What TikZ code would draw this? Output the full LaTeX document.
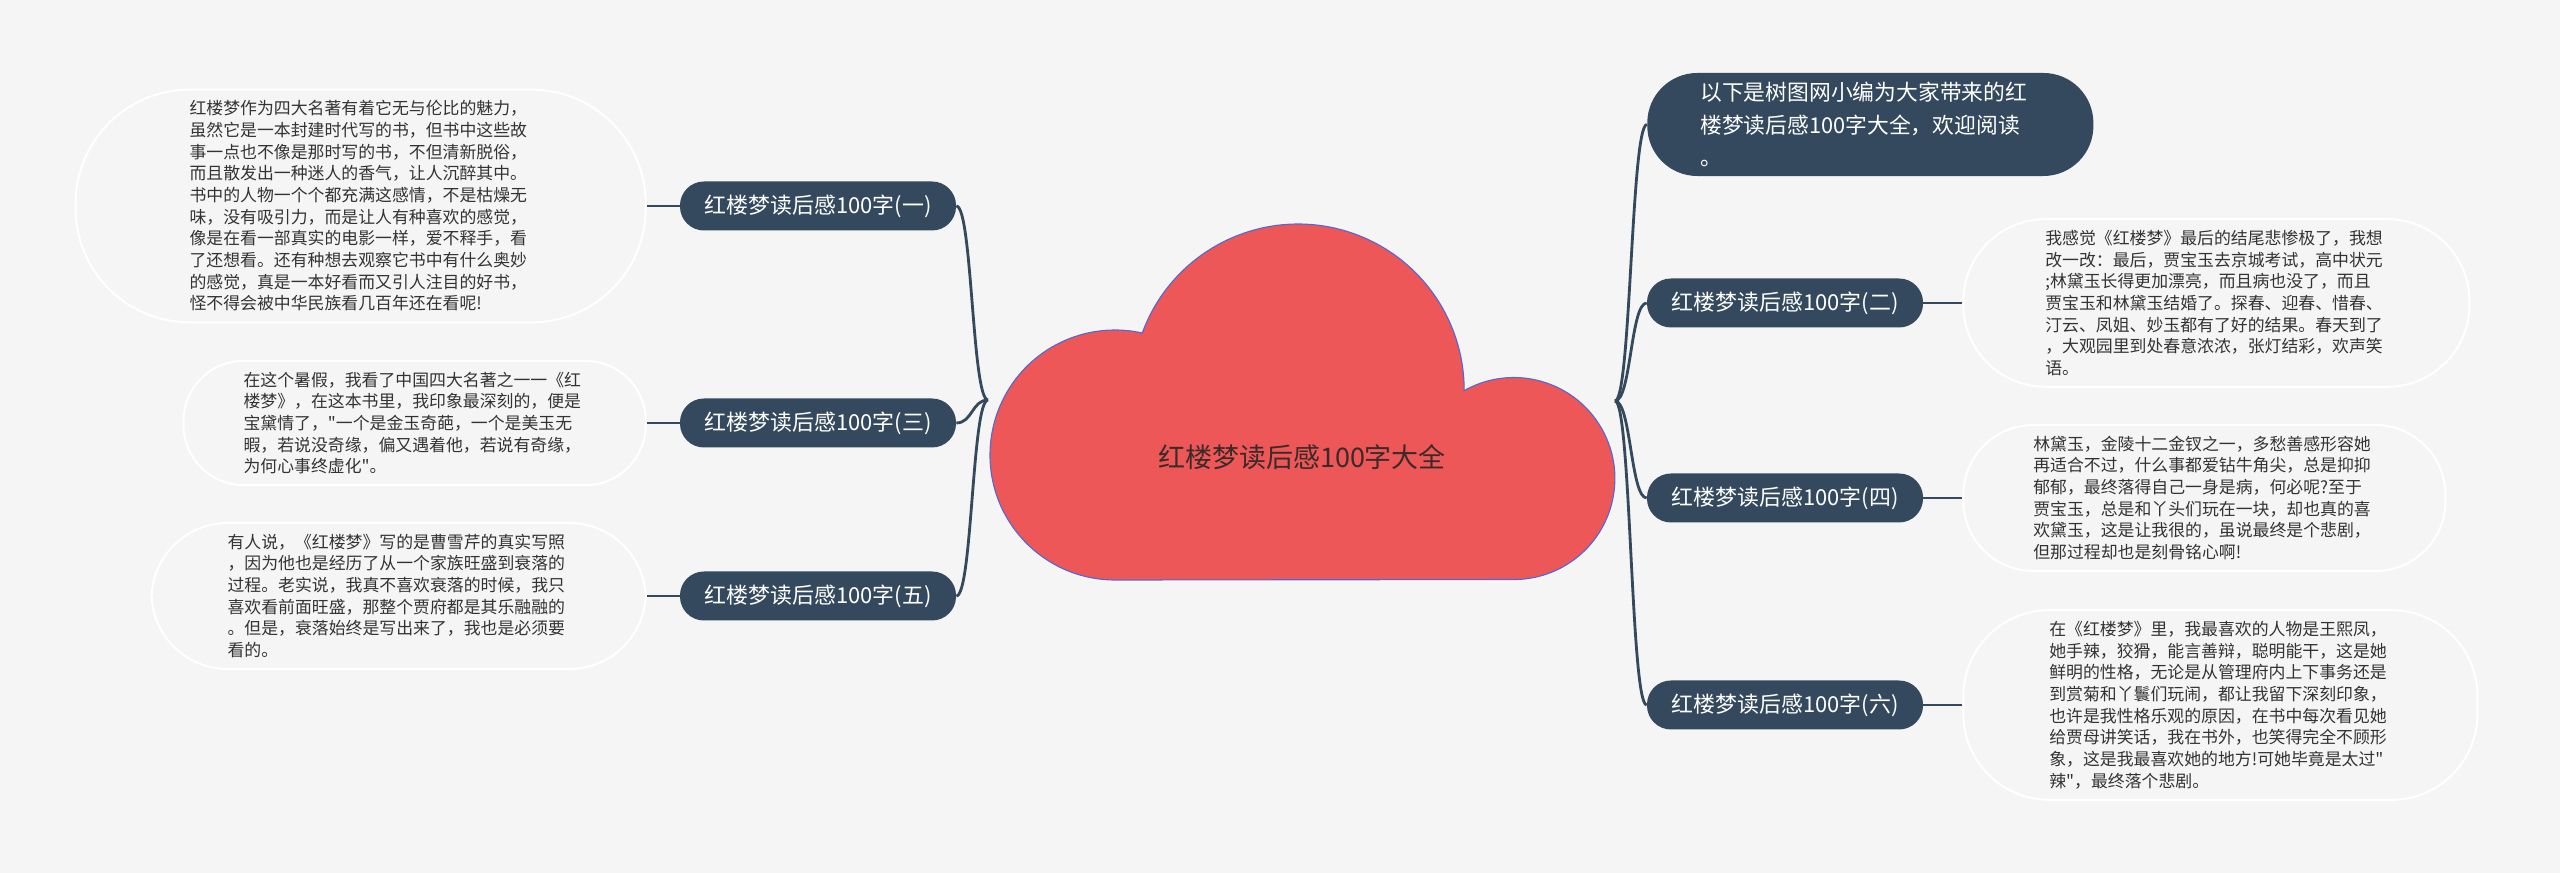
\documentclass[tikz,border=0pt]{standalone}
\usepackage{fontspec}
\newfontfamily\cjkfont{Noto Sans CJK SC}
\usetikzlibrary{positioning}

\definecolor{bgc}{HTML}{F5F5F5}
\definecolor{navy}{HTML}{34495E}
\definecolor{cloudred}{HTML}{EE5757}
\definecolor{cloudline}{HTML}{5468D4}
\definecolor{leaftext}{HTML}{333333}
\definecolor{titletext}{HTML}{3A2A2A}

\begin{document}
\begin{tikzpicture}[x=0.025cm, y=0.025cm,
    branch/.style={fill=navy, text=white, rounded corners=0.6cm, minimum width=6.9cm,
      minimum height=1.225cm, inner sep=0pt, font=\cjkfont\fontsize{15.6}{18}\selectfont},
    leaf/.style={draw=white, line width=1.4pt, fill=bgc, text=leaftext,
      text width=8.55cm, align=left, inner xsep=#1, rounded corners=#1, inner ysep=0.275cm,
      font=\cjkfont\fontsize{12}{15.4}\selectfont},
    intro/.style={fill=navy, text=white, rounded corners=1.25cm, anchor=west,
      minimum width=11.15cm, minimum height=2.575cm, text width=8.5cm, inner xsep=1.325cm,
      align=left, font=\cjkfont\fontsize{15.5}{22.8}\selectfont},
    link/.style={draw=navy, line width=2pt},
    twig/.style={draw=navy, line width=1.5pt}]

    \useasboundingbox (0,0) rectangle (2560,873);
    \fill[bgc] (0,0) rectangle (2560,873);

    % cloud in the middle
    \filldraw[fill=cloudred, draw=cloudline, line width=0.8pt] (1115,293)
        arc[start angle=270, end angle=77.4, radius=125]
        arc[start angle=159.9, end angle=-0.2, radius=166]
        arc[start angle=119.5, end angle=-90, radius=101] -- cycle;
    \node[text=titletext, font=\cjkfont\fontsize{19.2}{22}\selectfont] (title) at (1302,416) {红楼梦读后感100字大全};
    \coordinate (hubL) at (988,473);
    \coordinate (hubR) at (1615,472);

    % left side
    \node[branch] (b1) at (818,667) {红楼梦读后感100字(一)};
    \node[branch] (b3) at (818,450) {红楼梦读后感100字(三)};
    \node[branch] (b5) at (818,277) {红楼梦读后感100字(五)};

    \node[leaf=2.85cm, left=0.825cm of b1] (l1) {红楼梦作为四大名著有着它无与伦比的魅力，\\
        虽然它是一本封建时代写的书，但书中这些故\\
        事一点也不像是那时写的书，不但清新脱俗，\\
        而且散发出一种迷人的香气，让人沉醉其中。\\
        书中的人物一个个都充满这感情，不是枯燥无\\
        味，没有吸引力，而是让人有种喜欢的感觉，\\
        像是在看一部真实的电影一样，爱不释手，看\\
        了还想看。还有种想去观察它书中有什么奥妙\\
        的感觉，真是一本好看而又引人注目的好书，\\
        怪不得会被中华民族看几百年还在看呢!};
    \node[leaf=1.5cm, left=0.825cm of b3] (l3) {在这个暑假，我看了中国四大名著之一一《红\\
        楼梦》，在这本书里，我印象最深刻的，便是\\
        宝黛情了，"一个是金玉奇葩，一个是美玉无\\
        暇，若说没奇缘，偏又遇着他，若说有奇缘，\\
        为何心事终虚化"。};
    \node[leaf=1.9cm, left=0.825cm of b5] (l5) {有人说，《红楼梦》写的是曹雪芹的真实写照\\
        ，因为他也是经历了从一个家族旺盛到衰落的\\
        过程。老实说，我真不喜欢衰落的时候，我只\\
        喜欢看前面旺盛，那整个贾府都是其乐融融的\\
        。但是，衰落始终是写出来了，我也是必须要\\
        看的。};

    % right side
    \node[intro] (top) at (1647,748.5) {以下是树图网小编为大家带来的红\\
        楼梦读后感100字大全，欢迎阅读\\
        。};
    \node[branch] (b2) at (1785,570) {红楼梦读后感100字(二)};
    \node[branch] (b4) at (1785,375) {红楼梦读后感100字(四)};
    \node[branch] (b6) at (1785,168) {红楼梦读后感100字(六)};

    \node[leaf=2.05cm, right=0.975cm of b2] (l2) {我感觉《红楼梦》最后的结尾悲惨极了，我想\\
        改一改：最后，贾宝玉去京城考试，高中状元\\
        ;林黛玉长得更加漂亮，而且病也没了，而且\\
        贾宝玉和林黛玉结婚了。探春、迎春、惜春、\\
        汀云、凤姐、妙玉都有了好的结果。春天到了\\
        ，大观园里到处春意浓浓，张灯结彩，欢声笑\\
        语。};
    \node[leaf=1.75cm, right=0.975cm of b4] (l4) {林黛玉，金陵十二金钗之一，多愁善感形容她\\
        再适合不过，什么事都爱钻牛角尖，总是抑抑\\
        郁郁，最终落得自己一身是病，何必呢?至于\\
        贾宝玉，总是和丫头们玩在一块，却也真的喜\\
        欢黛玉，这是让我很的，虽说最终是个悲剧，\\
        但那过程却也是刻骨铭心啊!};
    \node[leaf=2.15cm, right=0.975cm of b6] (l6) {在《红楼梦》里，我最喜欢的人物是王熙凤，\\
        她手辣，狡猾，能言善辩，聪明能干，这是她\\
        鲜明的性格，无论是从管理府内上下事务还是\\
        到赏菊和丫鬟们玩闹，都让我留下深刻印象，\\
        也许是我性格乐观的原因，在书中每次看见她\\
        给贾母讲笑话，我在书外，也笑得完全不顾形\\
        象，这是我最喜欢她的地方!可她毕竟是太过"\\
        辣"，最终落个悲剧。};

    % connectors
    \foreach \b in {b1,b3,b5}
        \draw[link] (hubL) .. controls +(-16,0) and +(16,0) .. (\b.east);
    \foreach \b in {top,b2,b4,b6}
        \draw[link] (hubR) .. controls +(16,0) and +(-16,0) .. (\b.west);
    \foreach \b/\l in {b1/l1,b3/l3,b5/l5,b2/l2,b4/l4,b6/l6}
        \draw[twig] (\b) -- (\l);

\end{tikzpicture}
\end{document}
